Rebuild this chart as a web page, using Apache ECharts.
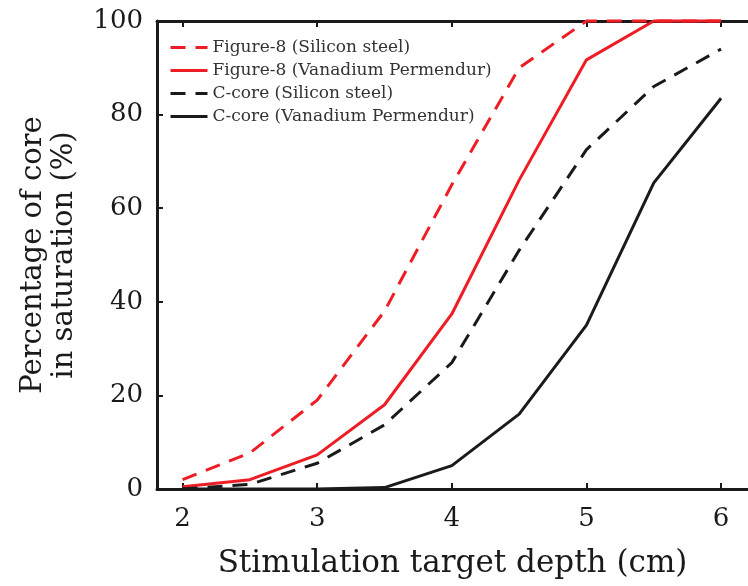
<!DOCTYPE html>
<html>
<head>
<meta charset="utf-8">
<script src="https://cdn.jsdelivr.net/npm/echarts@6/dist/echarts.min.js"></script>
<style>
  html, body { margin: 0; padding: 0; background: #fff; }
  #chart { width: 748px; height: 586px; }
</style>
</head>
<body>
<div id="chart"></div>
<script>
// depth values (cm)
const depths = [2, 2.5, 3, 3.5, 4, 4.5, 5, 5.5, 6];
const xTicks = [2, 3, 4, 5, 6];
const yTicks = [0, 20, 40, 60, 80, 100];

const fig8Silicon = [2, 7.7, 19, 38, 65, 90, 100, 100, 100];
const fig8Vanadium = [0.5, 2, 7.3, 18, 37.4, 66, 91.7, 100, 100];
const cCoreSilicon = [0, 1, 5.5, 13.7, 27, 51, 72.5, 86, 94];
const cCoreVanadium = [0, 0, 0, 0.3, 5, 16, 35, 65.4, 83.5];

const seriesNames = [
    'Figure-8 (Silicon steel)',
    'Figure-8 (Vanadium Permendur)',
    'C-core (Silicon steel)',
    'C-core (Vanadium Permendur)'
];

const RED = '#ee1d25';
const BLACK = '#1a1a1a';
const FONT = 'DejaVu Serif';

function pairs(ys) {
    return depths.map(function(x, i) { return [x, ys[i]]; });
}

function lineSeries(name, ys, color, dashed) {
    return {
        name: name,
        type: 'line',
        data: pairs(ys),
        symbol: 'none',
        clip: false,
        lineStyle: {
            color: color,
            width: 3,
            type: dashed ? [15, 10] : 'solid'
        },
        itemStyle: { color: color }
    };
}

document.addEventListener('DOMContentLoaded', function() {
    const chart = echarts.init(document.getElementById('chart'));

    const axisCommon = {
        type: 'value',
        min: 1.81,
        max: 6.2,
        splitLine: { show: false },
        axisLine: { show: true, onZero: false, lineStyle: { color: BLACK, width: 3 } },
        axisTick: {
            show: true,
            inside: true,
            length: 6,
            customValues: xTicks,
            lineStyle: { color: BLACK, width: 2 }
        }
    };

    const option = {
        animation: false,
        backgroundColor: '#fff',
        grid: {
            left: 157,
            right: -9,
            top: 21,
            bottom: 97
        },
        legend: {
            orient: 'vertical',
            left: 164,
            top: 34,
            itemWidth: 37,
            itemHeight: 14,
            itemGap: 6,
            data: seriesNames,
            itemStyle: { opacity: 0 },
            lineStyle: { width: 3 },
            textStyle: { fontFamily: FONT, fontSize: 17, color: '#333' }
        },
        xAxis: [
            Object.assign({}, axisCommon, {
                position: 'bottom',
                name: 'Stimulation target depth (cm)',
                nameLocation: 'middle',
                nameGap: 59,
                nameTextStyle: { fontFamily: FONT, fontSize: 31, color: BLACK },
                axisLabel: {
                    customValues: xTicks,
                    margin: 17,
                    fontFamily: FONT,
                    fontSize: 26,
                    color: BLACK
                }
            }),
            Object.assign({}, axisCommon, {
                position: 'top',
                axisLabel: { show: false }
            })
        ],
        yAxis: {
            type: 'value',
            min: 0,
            max: 100,
            interval: 20,
            splitLine: { show: false },
            name: 'Percentage of core\nin saturation (%)',
            nameLocation: 'middle',
            nameGap: 77,
            nameTextStyle: { fontFamily: FONT, fontSize: 29, color: BLACK, lineHeight: 31 },
            axisLine: { show: true, lineStyle: { color: BLACK, width: 3 } },
            axisTick: { show: true, inside: true, length: 6, lineStyle: { color: BLACK, width: 2 } },
            axisLabel: {
                margin: 14,
                fontFamily: FONT,
                fontSize: 26,
                color: BLACK
            }
        },
        series: [
            lineSeries(seriesNames[0], fig8Silicon, RED, true),
            lineSeries(seriesNames[1], fig8Vanadium, RED, false),
            lineSeries(seriesNames[2], cCoreSilicon, BLACK, true),
            lineSeries(seriesNames[3], cCoreVanadium, BLACK, false)
        ]
    };

    chart.setOption(option);

    window.addEventListener('resize', function() {
        chart.resize();
    });
});
</script>
</body>
</html>
